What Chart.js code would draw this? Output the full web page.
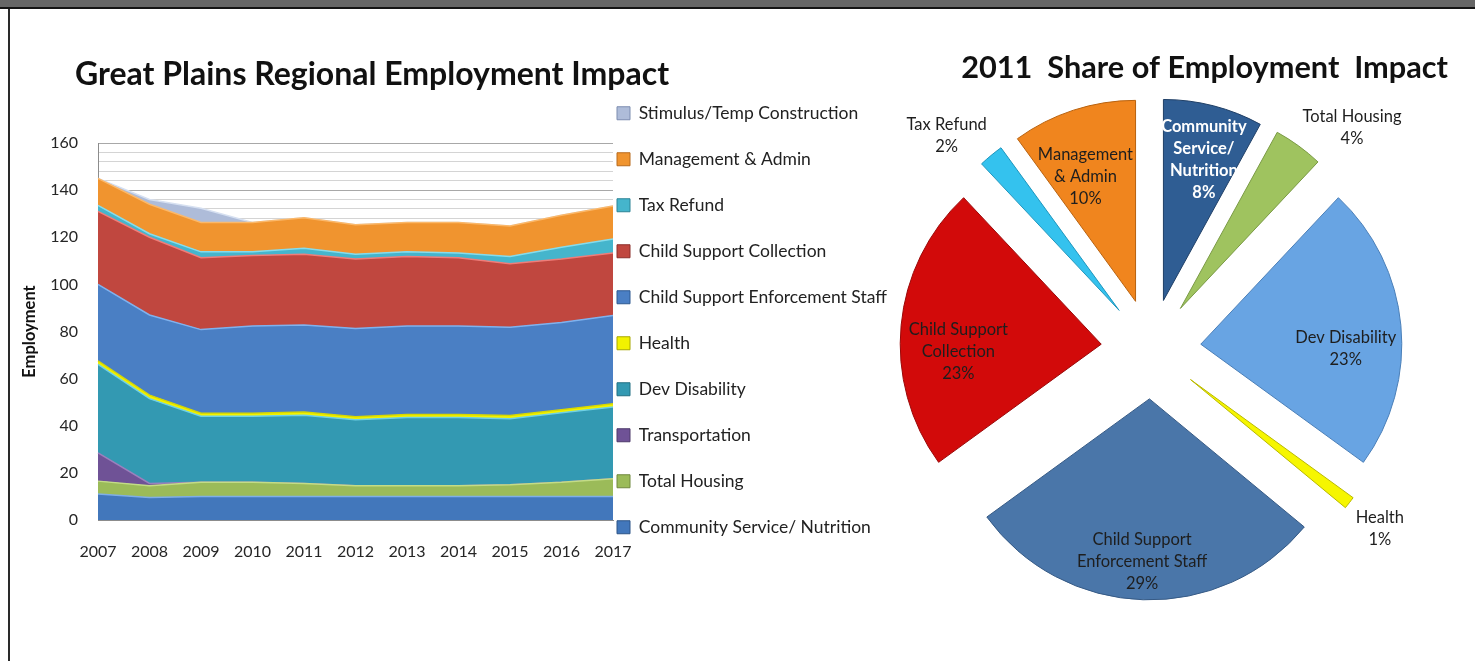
<!DOCTYPE html>
<html>
<head>
<meta charset="utf-8">
<title>Great Plains Regional Employment Impact</title>
<script src="https://cdn.jsdelivr.net/npm/chart.js@4.4.1/dist/chart.umd.min.js"></script>
<style>
  html, body { margin: 0; padding: 0; background: #ffffff; overflow: hidden; }
  body { position: relative; width: 1475px; height: 661px; }
  .band { position: absolute; left: 0; top: 0; width: 1475px; height: 7px; background: #666666; border-bottom: 2px solid #141414; }
  .rule { position: absolute; left: 8px; top: 9px; width: 2px; height: 652px; background: #2a2a2a; }
  #areaChart { position: absolute; left: 20px; top: 40px; }
  #pieChart { position: absolute; left: 854px; top: 40px; }
</style>
</head>
<body>
<div class="band"></div>
<div class="rule"></div>
<canvas id="areaChart" width="876" height="568"></canvas>
<canvas id="pieChart" width="621" height="600"></canvas>
<script>
Chart.defaults.font.family = 'Lato, "Open Sans", sans-serif';
Chart.defaults.color = '#262626';
Chart.defaults.animation = false;

const years = ['2007', '2008', '2009', '2010', '2011', '2012', '2013', '2014', '2015', '2016', '2017'];

// employment by program, bottom of the stack first
const communityService = [11, 9.5, 10, 10, 10, 10, 10, 10, 10, 10, 10];
const totalHousing = [5.5, 5, 6, 6, 5.5, 4.5, 4.5, 4.5, 5, 6, 7.5];
const transportation = [12, 1, 0, 0, 0, 0, 0, 0, 0, 0, 0];
const devDisability = [37.5, 36, 28, 28, 29, 28, 29, 29, 28, 29.5, 30.5];
const health = [1.5, 1.5, 1.3, 1.3, 1.3, 1.3, 1.3, 1.3, 1.3, 1.3, 1.3];
const enforcementStaff = [32.5, 34, 35.5, 37, 37, 37.5, 37.5, 37.5, 37.5, 37, 37.5];
const supportCollection = [31, 33, 30.5, 30, 30, 29.5, 29.5, 29, 27, 27, 26.5];
const taxRefund = [2.5, 1.5, 2.5, 1.5, 2.5, 2, 2, 2, 3, 5, 6];
const managementAdmin = [11.5, 12.5, 12.5, 12.5, 13, 12.5, 12.5, 13, 13, 13.5, 14];
const stimulusConstruction = [0, 2, 6, 0, 0, 0, 0, 0, 0, 0, 0];

const seriesNames = ['Community Service/ Nutrition', 'Total Housing', 'Transportation', 'Dev Disability', 'Health',
  'Child Support Enforcement Staff', 'Child Support Collection', 'Tax Refund', 'Management & Admin', 'Stimulus/Temp Construction'];
const yTicks = [0, 20, 40, 60, 80, 100, 120, 140, 160];

// 2011 pie, clockwise from 12 o'clock
const shareLabels = [['Community', 'Service/', 'Nutrition'], ['Total Housing'], ['Dev Disability'], ['Health'],
  ['Child Support', 'Enforcement Staff'], ['Child Support', 'Collection'], ['Tax Refund'], ['Management', '& Admin']];
const share2011 = [8, 4, 23, 1, 29, 23, 2, 10];

const areaFill = ['#4277bb', '#9bbb59', '#6f5296', '#3399b2', '#f2f200', '#4a7fc4', '#c0473f', '#45b5cc', '#f0942f', '#aebcd9'];
const areaEdge = ['#7eaee6', '#c3dc86', '#9a80bd', '#6fd0e4', '#d8d800', '#7fb2ee', '#ef7d79', '#86dcec', '#fbb86a', '#d6e0f1'];
const boxEdge = ['#2c5487', '#71893f', '#4e3a6b', '#237183', '#a8a800', '#2f5a91', '#8c2f2b', '#2c8396', '#b86a1d', '#7d8db0'];

const pieFill = ['#2f5d93', '#9fc35f', '#68a4e3', '#f6f600', '#4a76a9', '#d20a0a', '#34c2ee', '#f0851e'];
const pieEdge = ['#1f3f66', '#7a9a45', '#4a7fb8', '#b8b800', '#365a85', '#9a0808', '#1f96bd', '#b8620f'];
// label distance (share of radius) and a small turn in degrees, like Excel's best fit
const labelReach = [0.73, 1.24, 0.72, 1.2, 0.81, 0.71, 1.22, 0.67];
const labelTurn = [1.2, 6.2, 5.4, 0.4, 0.6, -6.3, -4.2, -2.8];
const pieExplode = 50;

const areaSeries = [communityService, totalHousing, transportation, devDisability, health,
  enforcementStaff, supportCollection, taxRefund, managementAdmin, stimulusConstruction];

// Excel hangs the title a bit to the left of the plot, not at the canvas edge
const titleHang = {
  id: 'titleHang',
  afterLayout(chart) {
    const t = chart.titleBlock;
    const shift = chart.chartArea.left - 23 - t.left;
    t.left += shift;
    t.right += shift;
  }
};

new Chart(document.getElementById('areaChart'), {
  type: 'line',
  data: {
    labels: years,
    datasets: areaSeries.map((values, i) => ({
      label: seriesNames[i],
      data: values,
      fill: i === 0 ? 'origin' : '-1',
      backgroundColor: areaFill[i],
      borderColor: areaEdge[i],
      borderWidth: 1.5,
      pointRadius: 0,
      tension: 0
    }))
  },
  options: {
    responsive: false,
    layout: { padding: { top: 17, right: 3, bottom: 0, left: 0 } },
    scales: {
      x: {
        afterFit: s => { s.height = 88; },
        grid: { display: false, drawTicks: false },
        border: { color: '#8c8c8c' },
        ticks: { padding: 22, maxRotation: 0, autoSkip: false, font: { size: 16 } }
      },
      y: {
        stacked: true,
        min: 0,
        max: 160,
        afterFit: s => { s.width = 78; },
        ticks: {
          stepSize: 4,
          maxTicksLimit: 41,
          autoSkip: false,
          padding: 20,
          font: { size: 16 },
          callback: v => yTicks.includes(v) ? v : ''
        },
        grid: {
          drawTicks: false,
          color: c => (c.tick && c.tick.value % 20 === 0) ? '#a8a8a8' : '#d4d4d4'
        },
        border: { color: '#8c8c8c' },
        title: { display: true, text: 'Employment', font: { size: 16.5, weight: 'bold' }, color: '#111', padding: { top: 0, bottom: 0 } }
      }
    },
    plugins: {
      title: {
        display: true,
        text: 'Great Plains Regional Employment Impact',
        align: 'start',
        color: '#111',
        font: { size: 32, weight: 'bold', lineHeight: 1 },
        padding: { top: 2, bottom: 52 }
      },
      legend: {
        position: 'right',
        align: 'center',
        reverse: true,
        maxWidth: 280,
        labels: {
          boxWidth: 13,
          boxHeight: 13,
          padding: 4,
          color: '#222',
          font: { size: 17.5, lineHeight: '42px' },
          generateLabels: chart => {
            const items = Chart.defaults.plugins.legend.labels.generateLabels(chart);
            items.forEach(it => {
              it.text = [it.text];
              it.strokeStyle = boxEdge[it.datasetIndex];
              it.lineWidth = 1;
            });
            return items;
          }
        }
      },
      tooltip: { enabled: false }
    }
  },
  plugins: [titleHang]
});

// push every slice out from the centre like an exploded Excel pie
const explodeSlices = {
  id: 'explodeSlices',
  afterDatasetUpdate(chart, args) {
    args.meta.data.forEach(arc => {
      const mid = (arc.startAngle + arc.endAngle) / 2;
      arc.x += Math.cos(mid) * pieExplode;
      arc.y += Math.sin(mid) * pieExplode;
    });
  }
};

const sliceLabels = {
  id: 'sliceLabels',
  afterDatasetsDraw(chart) {
    const ctx = chart.ctx;
    const values = chart.data.datasets[0].data;
    const total = values.reduce((a, b) => a + b, 0);
    chart.getDatasetMeta(0).data.forEach((arc, i) => {
      const mid = (arc.startAngle + arc.endAngle) / 2;
      const cx = arc.x - Math.cos(mid) * pieExplode;
      const cy = arc.y - Math.sin(mid) * pieExplode;
      const ang = mid + labelTurn[i] * Math.PI / 180;
      const dist = pieExplode + arc.outerRadius * labelReach[i];
      const x = cx + Math.cos(ang) * dist;
      const y = cy + Math.sin(ang) * dist;
      const lines = shareLabels[i].concat(Math.round(values[i] / total * 100) + '%');
      ctx.save();
      ctx.font = (i === 0 ? 'bold ' : '') + '16.5px Lato, "Open Sans", sans-serif';
      ctx.fillStyle = i === 0 ? '#ffffff' : '#1e1e1e';
      ctx.textAlign = 'center';
      ctx.textBaseline = 'middle';
      lines.forEach((t, j) => ctx.fillText(t, x, y + (j - (lines.length - 1) / 2) * 22));
      ctx.restore();
    });
  }
};

new Chart(document.getElementById('pieChart'), {
  type: 'pie',
  data: {
    labels: shareLabels.map(l => l.join(' ')),
    datasets: [{
      data: share2011,
      backgroundColor: pieFill,
      borderColor: pieEdge,
      borderWidth: 1,
      radius: 201
    }]
  },
  options: {
    responsive: false,
    radius: 201,
    layout: { padding: { top: 0, right: 27, bottom: 35.5, left: 0 } },
    plugins: {
      legend: { display: false },
      tooltip: { enabled: false },
      title: {
        display: true,
        text: '2011  Share of Employment  Impact',
        align: 'end',
        color: '#111',
        font: { size: 30.7, weight: 'bold', lineHeight: 1 },
        padding: { top: 12.6, bottom: 10 }
      }
    }
  },
  plugins: [explodeSlices, sliceLabels]
});
</script>
</body>
</html>
